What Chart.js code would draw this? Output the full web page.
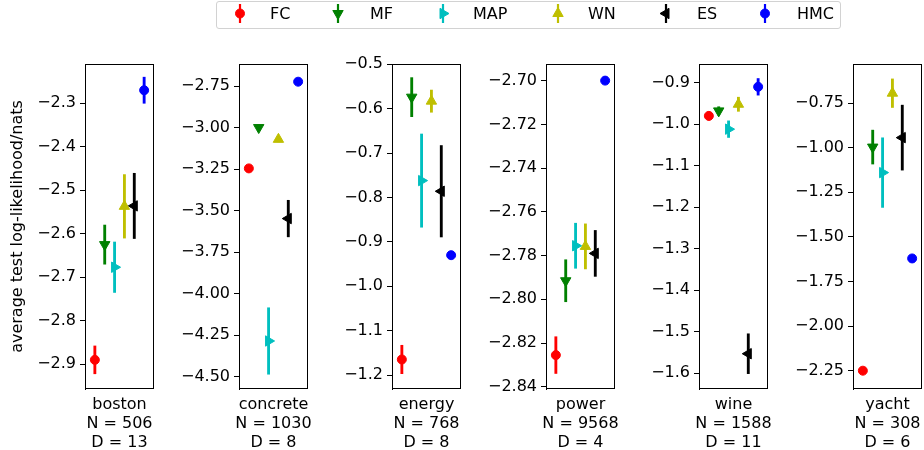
<!DOCTYPE html>
<html><head><meta charset="utf-8">
<script src="https://cdn.jsdelivr.net/npm/chart.js@4.4.0/dist/chart.umd.min.js"></script>
<style>
html,body{margin:0;padding:0;background:#fff;}
#wrap{position:relative;width:924px;height:450px;overflow:hidden;font-family:"DejaVu Sans",sans-serif;background:#fff;}
canvas.cv{position:absolute;}
#legend{position:absolute;left:216px;top:1px;width:625px;height:28px;border:1px solid #d2d2d2;border-radius:3px;box-sizing:border-box;}
.lt{position:absolute;top:4px;font-size:16px;line-height:19px;color:#000;font-family:"DejaVu Sans",sans-serif;white-space:nowrap;}
.xl{position:absolute;top:394px;width:140px;text-align:center;font-size:16px;line-height:19px;color:#000;font-family:"DejaVu Sans",sans-serif;white-space:nowrap;}
#legcv{position:absolute;left:0;top:0;}
</style></head>
<body><div id="wrap"><div id="legend"></div><canvas id="legcv" width="924" height="32"></canvas></div>
<script>
// ---- data ----
const datasetNames = ['boston', 'concrete', 'energy', 'power', 'wine', 'yacht'];
const datasetN = [506, 1030, 768, 9568, 1588, 308];
const datasetD = [13, 8, 8, 4, 11, 6];
const methods = ['FC', 'MF', 'MAP', 'WN', 'ES', 'HMC'];

// mean and error (half-length of error bar) per method, one entry per dataset
const FC_mean  = [-2.890, -3.246, -1.165, -2.8255, -0.980, -2.250];
const FC_err   = [0.032, 0.010, 0.032, 0.0084, 0.010, 0.010];
const MF_mean  = [-2.625, -3.000, -0.574, -2.7915, -0.968, -0.997];
const MF_err   = [0.045, 0.015, 0.044, 0.0096, 0.010, 0.095];
const MAP_mean = [-2.677, -4.285, -0.762, -2.7755, -1.012, -1.140];
const MAP_err  = [0.058, 0.200, 0.105, 0.0103, 0.020, 0.195];
const WN_mean  = [-2.537, -3.071, -0.583, -2.7758, -0.952, -0.695];
const WN_err   = [0.073, 0.015, 0.025, 0.0103, 0.017, 0.080];
const ES_mean  = [-2.536, -3.548, -0.786, -2.7790, -1.553, -0.944];
const ES_err   = [0.075, 0.110, 0.103, 0.0105, 0.048, 0.182];
const HMC_mean = [-2.270, -2.724, -0.930, -2.7000, -0.910, -1.621];
const HMC_err  = [0.030, 0.010, 0.008, 0.0010, 0.020, 0.010];

// y-axis limits and tick values per panel
const yMin = [-2.957, -4.574, -1.2315, -2.841, -1.638, -2.3526];
const yMax = [-2.2097, -2.6175, -0.4993, -2.6924, -0.855, -0.5314];
const ticks_boston   = [-2.9, -2.8, -2.7, -2.6, -2.5, -2.4, -2.3];
const ticks_concrete = [-4.5, -4.25, -4.0, -3.75, -3.5, -3.25, -3.0, -2.75];
const ticks_energy   = [-1.2, -1.1, -1.0, -0.9, -0.8, -0.7, -0.6, -0.5];
const ticks_power    = [-2.84, -2.82, -2.80, -2.78, -2.76, -2.74, -2.72, -2.70];
const ticks_wine     = [-1.6, -1.5, -1.4, -1.3, -1.2, -1.1, -1.0, -0.9];
const ticks_yacht    = [-2.25, -2.0, -1.75, -1.5, -1.25, -1.0, -0.75];
const tickDecimals = [1, 2, 1, 2, 1, 2];
const yTitle = 'average test log-likelihood/nats';

// ---- styles ----
const means = [FC_mean, MF_mean, MAP_mean, WN_mean, ES_mean, HMC_mean];
const errs = [FC_err, MF_err, MAP_err, WN_err, ES_err, HMC_err];
const tickSets = [ticks_boston, ticks_concrete, ticks_energy, ticks_power, ticks_wine, ticks_yacht];
const colors = ['#ff0000', '#008000', '#00bfbf', '#bfbf00', '#000000', '#0000ff'];
const pStyles = ['circle', 'triangle', 'triangle', 'triangle', 'triangle', 'circle'];
const pRot = [0, 180, 90, 0, 270, 0];
const pRad = [4.5, 6, 6, 6, 6, 4.5];
const FONT = {family: '"DejaVu Sans", sans-serif', size: 16, lineHeight: 1.1875};

const PANEL_LEFT0 = 85, PANEL_STEP = 153.5, PANEL_W = 69;
const CANVAS_TOP = 44, PAD_TOP = 20, CANVAS_H = 406, XAXIS_H = 61, PAD_RIGHT = 3;

const framePlugin = {
  id: 'frame',
  afterDatasetsDraw(chart) {
    const a = chart.chartArea, ctx = chart.ctx;
    ctx.save();
    ctx.strokeStyle = '#000';
    ctx.lineWidth = 1;
    ctx.strokeRect(Math.round(a.left) + 0.5, Math.round(a.top) + 0.5, Math.round(a.right - a.left) - 1, Math.round(a.bottom - a.top) - 1);
    ctx.restore();
  }
};

const wrap = document.getElementById('wrap');
for (let i = 0; i < datasetNames.length; i++) {
  const axisW = i === 0 ? 85 : 70;
  const boxLeft = Math.round(PANEL_LEFT0 + PANEL_STEP * i);
  const cv = document.createElement('canvas');
  cv.className = 'cv';
  const w = axisW + PANEL_W + PAD_RIGHT;
  cv.width = w; cv.height = CANVAS_H;
  cv.style.width = w + 'px'; cv.style.height = CANVAS_H + 'px';
  cv.style.left = (boxLeft - axisW) + 'px';
  cv.style.top = CANVAS_TOP + 'px';
  wrap.appendChild(cv);

  // x labels below each panel
  const xl = document.createElement('div');
  xl.className = 'xl';
  xl.style.left = (boxLeft + PANEL_W / 2 - 70) + 'px';
  xl.innerHTML = [datasetNames[i], 'N = ' + datasetN[i], 'D = ' + datasetD[i]].join('<br>');
  wrap.appendChild(xl);

  const datasets = [];
  methods.forEach((m, k) => {
    const mu = means[k][i], e = errs[k][i];
    datasets.push({
      type: 'bar', label: m + ' err', data: [{x: k, y: [mu - e, mu + e]}],
      backgroundColor: colors[k], borderWidth: 0, barThickness: 2.2, grouped: false, order: 2
    });
    datasets.push({
      type: 'scatter', label: m, data: [{x: k, y: mu}],
      pointStyle: pStyles[k], rotation: pRot[k], pointRadius: pRad[k],
      backgroundColor: colors[k], borderColor: colors[k], borderWidth: 1, order: 1, clip: false
    });
  });

  const tk = tickSets[i], dec = tickDecimals[i];
  new Chart(cv, {
    type: 'scatter',
    data: {datasets},
    plugins: [framePlugin],
    options: {
      responsive: false, animation: false, events: [],
      devicePixelRatio: window.devicePixelRatio || 1,
      layout: {autoPadding: false, padding: {top: PAD_TOP, right: PAD_RIGHT, left: 0, bottom: 0}},
      plugins: {legend: {display: false}, tooltip: {enabled: false}},
      scales: {
        x: {
          type: 'linear', min: -1, max: 6, offset: false,
          grid: {display: false, drawTicks: false, offset: false}, border: {display: false},
          ticks: {display: false},
          title: {display: false},
          afterFit: s => { s.height = XAXIS_H; }
        },
        y: {
          type: 'linear', min: yMin[i], max: yMax[i], beginAtZero: false, offset: false,
          afterBuildTicks: s => { s.ticks = tk.map(v => ({value: v})); },
          ticks: {autoSkip: false, padding: 4, color: '#000', font: FONT,
                  callback: v => Number(v).toFixed(dec).replace('-', '\u2212')},
          grid: {display: true, drawOnChartArea: false, drawTicks: true, tickLength: 5, color: '#000', lineWidth: 1, offset: false},
          border: {display: true, color: '#000', width: 1},
          title: i === 0 ? {display: true, text: yTitle, font: FONT, color: '#000', padding: {top: 8, bottom: 0}} : {display: false},
          afterFit: s => { s.width = axisW; }
        }
      }
    }
  });
}

// ---- legend ----
const legMarkerX = [240, 338, 443, 558, 666, 765];
const legTextX = [270, 370, 473, 588, 697, 797];
const lctx = document.getElementById('legcv').getContext('2d');
methods.forEach((m, k) => {
  const sp = document.createElement('span');
  sp.className = 'lt';
  sp.textContent = m;
  sp.style.left = legTextX[k] + 'px';
  wrap.appendChild(sp);
  const x = legMarkerX[k], y = 13.5;
  lctx.save();
  lctx.strokeStyle = colors[k]; lctx.fillStyle = colors[k];
  lctx.lineWidth = 2.2;
  lctx.beginPath(); lctx.moveTo(x, 4); lctx.lineTo(x, 23); lctx.stroke();
  lctx.lineWidth = 1;
  Chart.helpers.drawPoint(lctx, {pointStyle: pStyles[k], rotation: pRot[k], radius: pRad[k], borderWidth: 1}, x, y);
  lctx.restore();
});
</script>
</body></html>
